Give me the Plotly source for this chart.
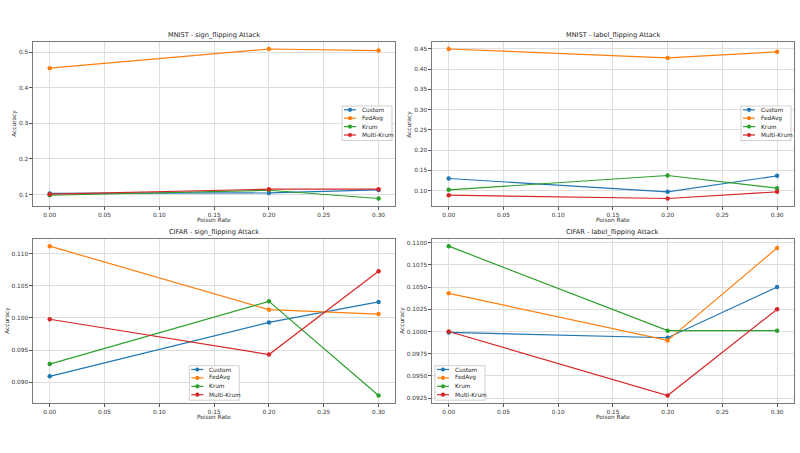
import plotly.graph_objects as go

poison_rates = [0.0, 0.2, 0.3]
methods = ["Custom", "FedAvg", "Krum", "Multi-Krum"]
colors = ["#1f77b4", "#ff7f0e", "#2ca02c", "#d62728"]

titles = ["MNIST - sign_flipping Attack", "MNIST - label_flipping Attack",
          "CIFAR - sign_flipping Attack", "CIFAR - label_flipping Attack"]

mnist_sign = {
    "Custom": [0.103, 0.1045, 0.113],
    "FedAvg": [0.455, 0.509, 0.5045],
    "Krum": [0.098, 0.112, 0.0888],
    "Multi-Krum": [0.101, 0.115, 0.115],
}
mnist_label = {
    "Custom": [0.1296, 0.0967, 0.1362],
    "FedAvg": [0.4495, 0.4275, 0.4425],
    "Krum": [0.1016, 0.137, 0.1058],
    "Multi-Krum": [0.0885, 0.0802, 0.0967],
}
cifar_sign = {
    "Custom": [0.0909, 0.0993, 0.1025],
    "FedAvg": [0.1112, 0.1013, 0.1006],
    "Krum": [0.0928, 0.1026, 0.0879],
    "Multi-Krum": [0.0998, 0.0943, 0.1073],
}
cifar_label = {
    "Custom": [0.0999, 0.0993, 0.1050],
    "FedAvg": [0.1043, 0.0990, 0.1094],
    "Krum": [0.1096, 0.1001, 0.1001],
    "Multi-Krum": [0.1000, 0.0928, 0.1025],
}
datasets = [mnist_sign, mnist_label, cifar_sign, cifar_label]

x_ticks = [0.0, 0.05, 0.10, 0.15, 0.20, 0.25, 0.30]
y_ticks = [
    [0.1, 0.2, 0.3, 0.4, 0.5],
    [0.10, 0.15, 0.20, 0.25, 0.30, 0.35, 0.40, 0.45],
    [0.090, 0.095, 0.100, 0.105, 0.110],
    [0.0925, 0.0950, 0.0975, 0.1000, 0.1025, 0.1050, 0.1075, 0.1100],
]
y_formats = [".1f", ".2f", ".3f", ".4f"]

W, H = 800, 453
# pixel boxes (left, right, top, bottom)
boxes = [
    (33.3, 395.0, 41.5, 206.0),
    (432.3, 793.5, 41.5, 206.0),
    (33.3, 395.0, 238.7, 403.0),
    (432.3, 793.5, 238.7, 403.0),
]
ylabel_x = [15, 410, 8, 403]
legend_box = [(342, 106), (741, 106), (189.3, 365.7), (435, 365.7)]

font_family = "DejaVu Sans"
grid_color = "#dedede"
spine_color = "#7a7a7a"
FS = 5.8


def px(x):
    return x / W


def py(y):
    return 1 - y / H


fig = go.Figure()
shapes = []
annotations = []

for i, (data, box) in enumerate(zip(datasets, boxes)):
    n = "" if i == 0 else str(i + 1)
    xa, ya = "x" + n, "y" + n
    for m, c in zip(methods, colors):
        fig.add_trace(go.Scatter(
            x=poison_rates, y=data[m], name=m, mode="lines+markers",
            line=dict(color=c, width=1.2), marker=dict(color=c, size=4.5),
            xaxis=xa, yaxis=ya, showlegend=False,
        ))
    l, r, t, b = box
    vals = [v for m in methods for v in data[m]]
    lo, hi = min(vals), max(vals)
    pad = (hi - lo) * 0.05
    axis_common = dict(
        showgrid=True, gridcolor=grid_color, gridwidth=1,
        showline=True, linecolor=spine_color, linewidth=1, mirror=True,
        ticks="outside", ticklen=3, tickcolor="#555", tickwidth=0.8,
        tickfont=dict(size=FS, color="#333", family=font_family),
        zeroline=False, automargin=False,
    )
    fig.layout["xaxis" + n] = dict(
        domain=[px(l), px(r)], anchor=ya, range=[-0.015, 0.315],
        tickvals=x_ticks, tickformat=".2f", **axis_common,
    )
    fig.layout["yaxis" + n] = dict(
        domain=[py(b), py(t)], anchor=xa, range=[lo - pad, hi + pad],
        tickvals=y_ticks[i], tickformat=y_formats[i], **axis_common,
    )
    # subplot title
    annotations.append(dict(
        text=titles[i], x=px((l + r) / 2), y=py(t - 6.5), xref="paper", yref="paper",
        xanchor="center", yanchor="middle", showarrow=False,
        font=dict(size=6.6, color="#222", family=font_family),
    ))
    # axis titles
    annotations.append(dict(
        text="Poison Rate", x=px((l + r) / 2), y=py(b + 14), xref="paper", yref="paper",
        xanchor="center", yanchor="middle", showarrow=False,
        font=dict(size=FS, color="#333", family=font_family),
    ))
    annotations.append(dict(
        text="Accuracy", x=px(ylabel_x[i]), y=py((t + b) / 2), xref="paper", yref="paper",
        xanchor="center", yanchor="middle", showarrow=False, textangle=-90,
        font=dict(size=FS, color="#333", family=font_family),
    ))
    # legend (drawn in paper space)
    L, T = legend_box[i]
    shapes.append(dict(
        type="rect", xref="paper", yref="paper",
        x0=px(L), x1=px(L + 50), y0=py(T), y1=py(T + 34.5),
        line=dict(color="#d0d0d0", width=1), fillcolor="rgba(255,255,255,0.85)", layer="above",
    ))
    for k, (m, c) in enumerate(zip(methods, colors)):
        yy = T + 3.8 + 8.4 * k
        shapes.append(dict(
            type="line", xref="paper", yref="paper",
            x0=px(L + 2), x1=px(L + 14), y0=py(yy), y1=py(yy),
            line=dict(color=c, width=1.2), layer="above",
        ))
        shapes.append(dict(
            type="circle", xref="paper", yref="paper",
            x0=px(L + 8 - 2.1), x1=px(L + 8 + 2.1), y0=py(yy - 2.1), y1=py(yy + 2.1),
            line=dict(color=c, width=0), fillcolor=c, layer="above",
        ))
        annotations.append(dict(
            text=m, x=px(L + 17.5), y=py(yy), xref="paper", yref="paper",
            xanchor="left", yanchor="middle", showarrow=False,
            font=dict(size=FS, color="#222", family=font_family),
        ))

fig.update_layout(
    width=W, height=H, margin=dict(l=0, r=0, t=0, b=0, autoexpand=False),
    paper_bgcolor="white", plot_bgcolor="white", showlegend=False,
    font=dict(family=font_family), shapes=shapes, annotations=annotations,
)
fig.write_html("out.html", config={"displayModeBar": False},
               post_script="document.body.style.margin='0';")
